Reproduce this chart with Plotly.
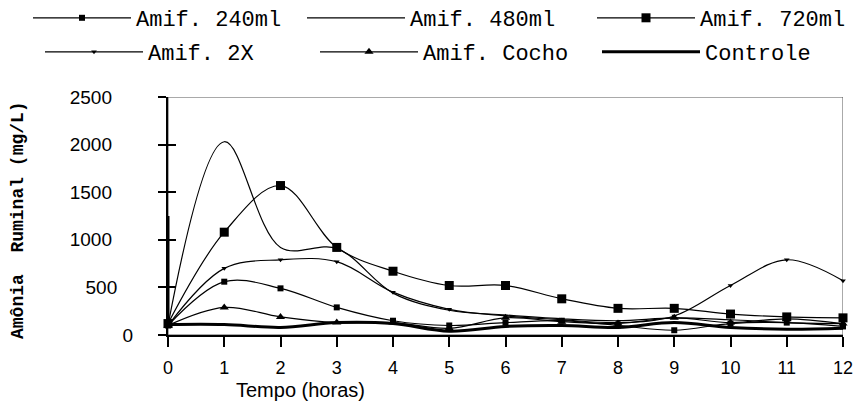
import plotly.graph_objects as go

hours = [0, 1, 2, 3, 4, 5, 6, 7, 8, 9, 10, 11, 12]
amif_240 = [100, 560, 490, 290, 150, 100, 130, 150, 100, 50, 120, 130, 90]
amif_480 = [100, 2030, 920, 910, 440, 260, 210, 170, 150, 180, 160, 130, 120]
amif_720 = [120, 1080, 1570, 920, 670, 520, 520, 380, 280, 280, 220, 190, 180]
amif_2x = [100, 700, 790, 770, 450, 270, 200, 160, 130, 200, 520, 790, 570]
amif_cocho = [100, 290, 190, 130, 130, 70, 180, 140, 120, 180, 130, 170, 120]
controle = [110, 110, 80, 130, 120, 40, 90, 100, 80, 130, 80, 60, 70]
axis_stub_x = [0, 0]
axis_stub_y = [100, 1250]
y_ticks = [0, 500, 1000, 1500, 2000, 2500]
y_tick_labels = ["0", "500", "1000", "1500", "2000", "2500"]
y_label_pad = [4, 7, 8, 8, 8, 8]  # non-breaking spaces after each y label

W, H = 854, 402
L, R, T, B = 168, 11, 97, 67
pw = W - L - R
ph = H - T - B


def px(xp):
    return (xp - L) / pw


def py(yp):
    return (H - B - yp) / ph


fig = go.Figure()

# (name, data, symbol, size, width, legend id, line start x, center y)
series = [
    ("Amif. 240ml", amif_240, "square", 6, 1.2, "legend", 33, 18),
    ("Amif. 480ml", amif_480, None, 0, 1.2, "legend2", 307, 18),
    ("Amif. 720ml", amif_720, "square", 9, 1.2, "legend3", 597, 18),
    ("Amif. 2X", amif_2x, "triangle-down", 5, 1.2, "legend4", 45, 52),
    ("Amif. Cocho", amif_cocho, "triangle-up", 8, 1.2, "legend5", 320, 52),
    ("Controle", controle, None, 0, 3, "legend6", 602, 52),
]

legend_layout = {}
for name, y, symbol, size, width, lg, lx, ly in series:
    mode = "lines+markers" if symbol else "lines"
    fig.add_trace(go.Scatter(
        x=hours, y=y, name=name, mode=mode,
        line=dict(color="black", width=width, shape="spline", smoothing=1.0),
        marker=dict(symbol=symbol or "circle", size=size, color="black"),
        legend=lg, cliponaxis=False,
    ))
    legend_layout[lg] = dict(
        x=px(lx - 5), xanchor="left", y=py(ly), yanchor="middle",
        itemwidth=98, borderwidth=0, bgcolor="rgba(0,0,0,0)",
        font=dict(family="Liberation Mono", size=22, color="black"),
    )

fig.add_trace(go.Scatter(x=axis_stub_x, y=axis_stub_y, mode="lines",
                         line=dict(color="black", width=3), showlegend=False,
                         hoverinfo="skip"))
fig.add_trace(go.Scatter(x=[None], y=[None], yaxis="y2", showlegend=False))

# frame (top and right) and short left extension of the x axis line
fig.add_shape(type="rect", xref="x", yref="y", x0=0, x1=12, y0=0, y1=2500,
              line=dict(color="#555", width=1), layer="below")
fig.add_shape(type="line", xref="paper", yref="y", x0=px(158), x1=0, y0=0, y1=0,
              line=dict(color="black", width=2))

fig.update_layout(
    width=W, height=H,
    margin=dict(l=L, r=R, t=T, b=B, autoexpand=False),
    paper_bgcolor="white", plot_bgcolor="white",
    showlegend=True,
    xaxis=dict(range=[0, 12], tickvals=hours, ticktext=[str(h) for h in hours],
               showgrid=False, zeroline=False, showline=True, linecolor="black",
               linewidth=2, ticks="outside", ticklen=10, tickwidth=2, tickcolor="black",
               ticklabelstandoff=5, ticklabeloverflow="allow",
               tickfont=dict(family="Liberation Sans", size=18, color="black")),
    yaxis=dict(range=[0, 2500], tickvals=y_ticks,
               ticktext=[t + "\u00a0" * p for t, p in zip(y_tick_labels, y_label_pad)],
               showgrid=False, zeroline=False,
               showline=True, linecolor="black",
               linewidth=2, ticks="outside", ticklen=8, tickwidth=2, tickcolor="black",
               ticklabeloverflow="allow",
               tickfont=dict(family="Liberation Sans", size=19, color="black")),
    yaxis2=dict(range=[0, 2500], tickvals=y_ticks, overlaying="y", side="left",
                showticklabels=False, showgrid=False, zeroline=False,
                ticks="inside", ticklen=8, tickwidth=2, tickcolor="black", showline=False),
    **legend_layout,
)

fig.add_annotation(text="Tempo (horas)", xref="paper", yref="paper",
                   x=px(300), y=py(390), xanchor="center", yanchor="middle",
                   showarrow=False,
                   font=dict(family="Liberation Sans", size=20, color="black"))
fig.add_annotation(text="<b>Amônia\u00a0\u00a0Ruminal (mg/L)</b>", xref="paper", yref="paper",
                   x=px(18), y=py(220), xanchor="center", yanchor="middle",
                   textangle=-90, showarrow=False,
                   font=dict(family="Liberation Mono", size=18, color="black"))

fig.write_html("out.html")
